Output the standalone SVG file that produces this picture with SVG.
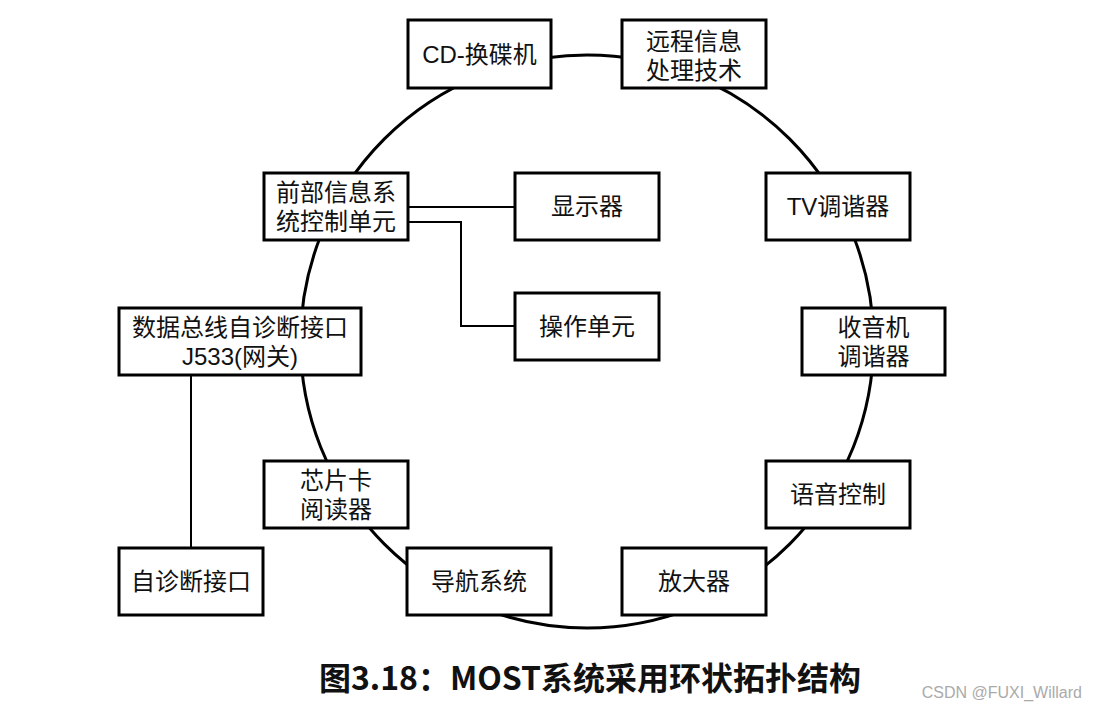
<svg xmlns="http://www.w3.org/2000/svg" width="1097" height="711" viewBox="0 0 1097 711">
<style>
.box{fill:#fff;stroke:#000;stroke-width:3}
.t{font-family:"Liberation Sans","Noto Sans CJK SC",sans-serif;font-size:24px;fill:#111;text-anchor:middle;dominant-baseline:central}
.ring{fill:none;stroke:#000;stroke-width:3}
.link{fill:none;stroke:#000;stroke-width:2}
</style>
<rect width="1097" height="711" fill="#fff"/>
<g id="connectors">
<circle class="ring" cx="587" cy="341.5" r="286.5"/>
<line class="link" x1="408" y1="207" x2="515" y2="207"/>
<polyline class="link" points="408,222 461,222 461,326 515,326"/>
<line class="link" x1="191" y1="375" x2="191" y2="548"/>
</g>
<g id="cd"><rect class="box" x="408" y="20" width="143" height="68"/><text class="t" x="479.5" y="54">CD-换碟机</text></g>
<g id="remote"><rect class="box" x="622" y="20" width="144" height="68"/><text class="t"><tspan x="694" y="41">远程信息</tspan><tspan x="694" y="70">处理技术</tspan></text></g>
<g id="front"><rect class="box" x="264" y="173" width="144" height="67"/><text class="t"><tspan x="336" y="192">前部信息系</tspan><tspan x="336" y="221">统控制单元</tspan></text></g>
<g id="display"><rect class="box" x="515" y="173" width="144" height="67"/><text class="t" x="587" y="206">显示器</text></g>
<g id="operate"><rect class="box" x="515" y="293" width="144" height="67"/><text class="t" x="587" y="326">操作单元</text></g>
<g id="tv"><rect class="box" x="766" y="173" width="144" height="67"/><text class="t" x="838" y="206">TV调谐器</text></g>
<g id="gateway"><rect class="box" x="119" y="308" width="242" height="67"/><text class="t"><tspan x="240" y="327">数据总线自诊断接口</tspan><tspan x="240" y="356">J533(网关)</tspan></text></g>
<g id="radio"><rect class="box" x="802" y="308" width="143" height="67"/><text class="t"><tspan x="873.5" y="327">收音机</tspan><tspan x="873.5" y="356">调谐器</tspan></text></g>
<g id="chip"><rect class="box" x="264" y="461" width="144" height="67"/><text class="t"><tspan x="336" y="480">芯片卡</tspan><tspan x="336" y="509">阅读器</tspan></text></g>
<g id="voice"><rect class="box" x="766" y="461" width="144" height="67"/><text class="t" x="838" y="494">语音控制</text></g>
<g id="diag"><rect class="box" x="119" y="548" width="144" height="67"/><text class="t" x="191" y="581">自诊断接口</text></g>
<g id="nav"><rect class="box" x="407" y="548" width="144" height="67"/><text class="t" x="479" y="581">导航系统</text></g>
<g id="amp"><rect class="box" x="622" y="548" width="144" height="67"/><text class="t" x="694" y="581">放大器</text></g>
<text x="590" y="676" style="font-family:'Noto Sans CJK SC','Liberation Sans',sans-serif;font-size:32px;font-weight:bold;text-anchor:middle;dominant-baseline:central;fill:#111">图3.18：MOST系统采用环状拓扑结构</text>
<text x="1082" y="692" style="font-family:'Liberation Sans',sans-serif;font-size:16px;text-anchor:end;dominant-baseline:central;fill:#aaa">CSDN @FUXI_Willard</text>
</svg>
